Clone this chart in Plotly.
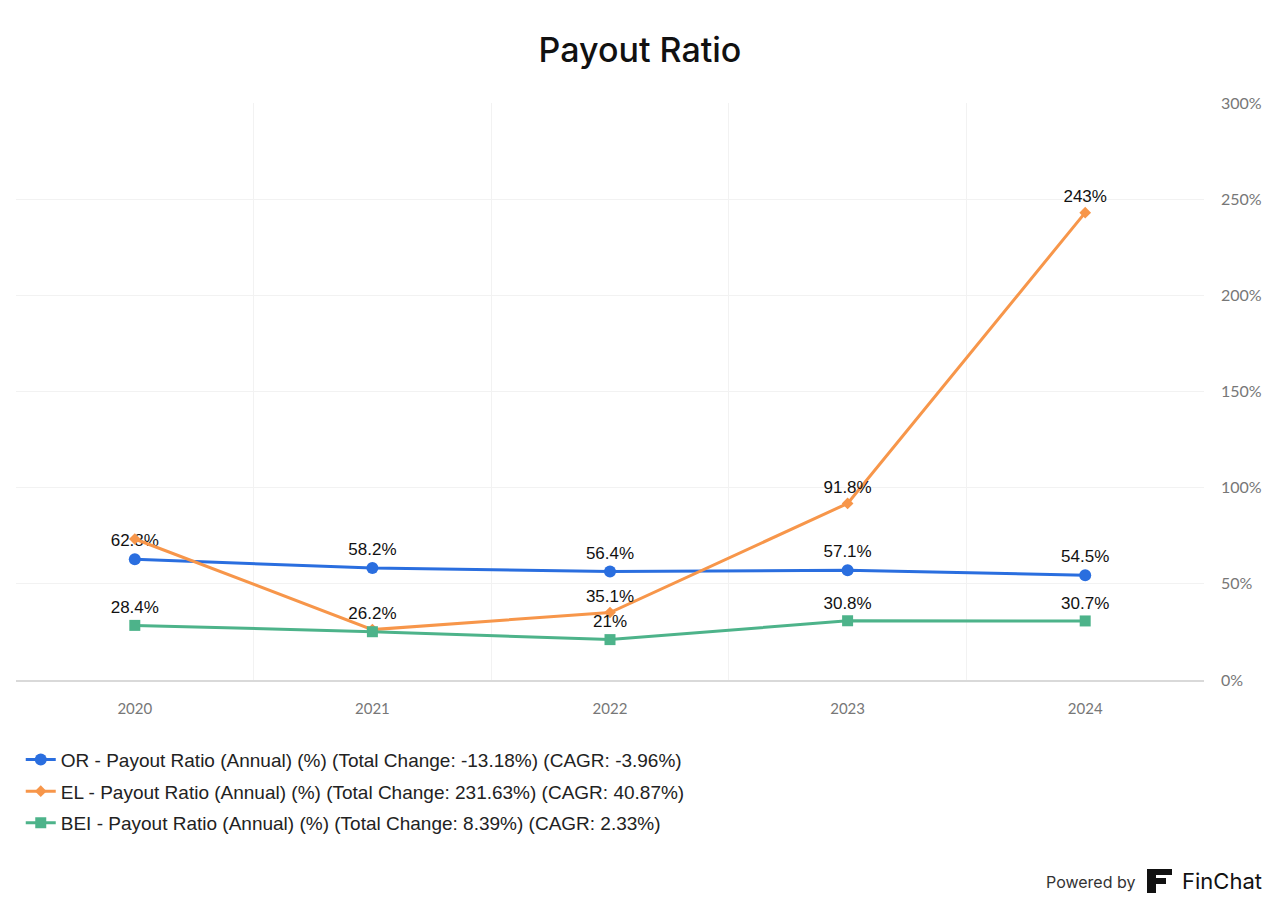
import plotly.graph_objects as go

years = ["2020", "2021", "2022", "2023", "2024"]
or_vals = [62.8, 58.2, 56.4, 57.1, 54.5]
el_vals = [73.3, 26.2, 35.1, 91.8, 243.0]
bei_vals = [28.4, 25.1, 21.0, 30.8, 30.7]

or_text = ["62.8%", "58.2%", "56.4%", "57.1%", "54.5%"]
el_text = ["", "26.2%", "35.1%", "91.8%", "243%"]
bei_text = ["28.4%", "", "21%", "30.8%", "30.7%"]

names = [
    "OR - Payout Ratio (Annual) (%) (Total Change: -13.18%) (CAGR: -3.96%)",
    "EL - Payout Ratio (Annual) (%) (Total Change: 231.63%) (CAGR: 40.87%)",
    "BEI - Payout Ratio (Annual) (%) (Total Change: 8.39%) (CAGR: 2.33%)",
]
groups = ["or", "el", "bei"]
colors = ["#2A6EDF", "#F7964A", "#4DB38A"]
symbols = ["circle", "diamond", "square"]
sizes = [12, 9, 11]

W, H = 1280, 907
L, R, T, B = 16, 76, 103, 227

fig = go.Figure()
for vals, txt, name, g, c, s, sz in zip(
    [or_vals, el_vals, bei_vals], [or_text, el_text, bei_text], names, groups, colors, symbols, sizes
):
    fig.add_trace(go.Scatter(
        x=years, y=vals, name=name, legendgroup=g, mode="lines+markers+text",
        text=txt, textposition="top center",
        textfont=dict(family="Liberation Sans, Arial", size=17, color="#111111"),
        line=dict(color=c, width=3),
        marker=dict(symbol=s, size=sz, color=c),
        cliponaxis=False,
    ))

fig.update_layout(
    width=W, height=H,
    margin=dict(l=L, r=R, t=T, b=B),
    paper_bgcolor="white", plot_bgcolor="white",
    title=dict(text="Payout Ratio", x=0.5, xanchor="center", xref="container",
               y=1 - 50 / H, yanchor="middle", yref="container",
               font=dict(family="Inter, Lato", size=34, color="#111111", weight=500)),
    showlegend=True,
    legend=dict(orientation="v", x=0.004, xanchor="left", y=-0.105, yanchor="top",
                font=dict(family="Liberation Sans, Arial", size=19, color="#222222"),
                itemwidth=30, tracegroupgap=4),
    xaxis=dict(type="category", tickson="boundaries", showgrid=True, gridcolor="#F2F2F2",
               gridwidth=1, showline=True, linecolor="#D9D9D9", linewidth=1.5,
               ticks="", ticklabelstandoff=14,
               tickfont=dict(family="Lato, Noto Sans", size=15, color="#777777"),
               range=[-0.5, 4.5], fixedrange=True),
    yaxis=dict(side="right", range=[0, 300], tickvals=[0, 50, 100, 150, 200, 250, 300],
               ticktext=["0%", "50%", "100%", "150%", "200%", "250%", "300%"],
               showgrid=True, gridcolor="#F2F2F2", zeroline=False, ticks="",
               ticklabelstandoff=16,
               tickfont=dict(family="Lato, Noto Sans", size=16, color="#777777")),
)

pw, ph = W - L - R, H - T - B
def px(x):
    return (x - L) / pw
def py(y):
    return (H - B - y) / ph

# Footer
fig.add_annotation(text="Powered by", xref="paper", yref="paper", x=px(1137), y=py(882),
                   xanchor="right", yanchor="middle", showarrow=False,
                   font=dict(family="Inter, Liberation Sans", size=16, color="#333333"))
fig.add_annotation(text="FinChat", xref="paper", yref="paper", x=px(1180), y=py(881),
                   xanchor="left", yanchor="middle", showarrow=False,
                   font=dict(family="Inter, Liberation Sans", size=22, color="#111111"))
fig.add_shape(type="rect", xref="paper", yref="paper", x0=px(1147), x1=px(1172),
              y0=py(875), y1=py(869), fillcolor="#111111", line=dict(width=0))
fig.add_shape(type="rect", xref="paper", yref="paper", x0=px(1147), x1=px(1156),
              y0=py(893), y1=py(869), fillcolor="#111111", line=dict(width=0))
fig.add_shape(type="rect", xref="paper", yref="paper", x0=px(1147), x1=px(1166),
              y0=py(884), y1=py(878), fillcolor="#111111", line=dict(width=0))

fig.write_html("out.html")
